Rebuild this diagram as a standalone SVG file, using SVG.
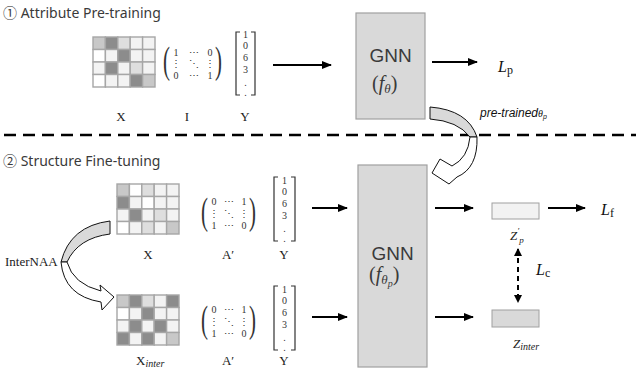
<svg xmlns="http://www.w3.org/2000/svg" width="636" height="370" viewBox="0 0 636 370">
<style>
.bg{fill:#ffffff}
.head{font-family:"Noto Sans","Noto Sans CJK KR",sans-serif;font-size:14px;fill:#3a3a3a}
.lbl{font-family:"Liberation Serif","DejaVu Serif",serif;font-size:13px;fill:#222}
.mt{font-family:"Liberation Serif","DejaVu Serif",serif;font-size:10px;fill:#333;text-anchor:middle}
.par{font-family:"Liberation Serif","DejaVu Serif",serif;font-size:38px;fill:#333}
.vec{font-family:"Liberation Serif","DejaVu Serif",serif;font-size:10px;fill:#333;text-anchor:middle}
.brk{fill:none;stroke:#333;stroke-width:1.2}
.cell{stroke:#a6a6a6;stroke-width:1.4}
.D{fill:#8c8c8c}.L{fill:#c8c8c8}.M{fill:#dedede}.V{fill:#f3f3f3}.W{fill:#ffffff}
.gnn{fill:#d9d9d9;stroke:#a0a0a0;stroke-width:1.2}
.gt{font-family:"Liberation Sans",Arial,sans-serif;font-size:19px;fill:#3a3a3a;text-anchor:middle}
.gf{font-family:"Liberation Serif","DejaVu Serif",serif;font-size:20px;fill:#3a3a3a}
.arr{stroke:#000;stroke-width:2;fill:none;marker-end:url(#ah)}
.dash{stroke:#000;stroke-width:2;fill:none;stroke-dasharray:5 4;marker-end:url(#ah2);marker-start:url(#ah2s)}
.sep{stroke:#000;stroke-width:2.6;stroke-dasharray:12 7;fill:none}
.math{font-family:"Liberation Serif","DejaVu Serif",serif;font-size:16px;fill:#111}
.curv{stroke:#111;stroke-width:1}
</style>
<defs>
<marker id="ah" markerUnits="userSpaceOnUse" markerWidth="10" markerHeight="8" refX="9" refY="4" orient="auto"><path d="M0,0 L10,4 L0,8 z" fill="#000"/></marker>
<marker id="ah2" markerUnits="userSpaceOnUse" markerWidth="8" markerHeight="8" refX="7" refY="4" orient="auto"><path d="M0,0 L8,4 L0,8 z" fill="#000"/></marker>
<marker id="ah2s" markerUnits="userSpaceOnUse" markerWidth="8" markerHeight="8" refX="1" refY="4" orient="auto"><path d="M8,0 L0,4 L8,8 z" fill="#000"/></marker>
</defs>
<rect class="bg" x="0" y="0" width="636" height="370"/>

<text class="head" x="3" y="18">① Attribute Pre-training</text>
<text class="head" x="3" y="166">② Structure Fine-tuning</text>

<line class="sep" x1="4" y1="135" x2="636" y2="135"/>

<!-- Top inputs -->
<g id="x-top">
<g transform="translate(93,37)">
<rect class="cell L" x="0" y="0" width="12.4" height="12.5"/><rect class="cell D" x="12.4" y="0" width="12.4" height="12.5"/><rect class="cell M" x="24.8" y="0" width="12.4" height="12.5"/><rect class="cell V" x="37.2" y="0" width="12.4" height="12.5"/><rect class="cell V" x="49.6" y="0" width="12.4" height="12.5"/>
<rect class="cell W" x="0" y="12.5" width="12.4" height="12.5"/><rect class="cell V" x="12.4" y="12.5" width="12.4" height="12.5"/><rect class="cell D" x="24.8" y="12.5" width="12.4" height="12.5"/><rect class="cell V" x="37.2" y="12.5" width="12.4" height="12.5"/><rect class="cell V" x="49.6" y="12.5" width="12.4" height="12.5"/>
<rect class="cell V" x="0" y="25" width="12.4" height="12.5"/><rect class="cell D" x="12.4" y="25" width="12.4" height="12.5"/><rect class="cell V" x="24.8" y="25" width="12.4" height="12.5"/><rect class="cell M" x="37.2" y="25" width="12.4" height="12.5"/><rect class="cell V" x="49.6" y="25" width="12.4" height="12.5"/>
<rect class="cell W" x="0" y="37.5" width="12.4" height="12.5"/><rect class="cell V" x="12.4" y="37.5" width="12.4" height="12.5"/><rect class="cell V" x="24.8" y="37.5" width="12.4" height="12.5"/><rect class="cell D" x="37.2" y="37.5" width="12.4" height="12.5"/><rect class="cell L" x="49.6" y="37.5" width="12.4" height="12.5"/>
</g>
<text class="lbl" x="121" y="121" text-anchor="middle">X</text>
</g>

<g id="i-top">
<text class="par" transform="translate(163,73) scale(0.55,1)">(</text>
<text class="par" transform="translate(215,73) scale(0.55,1)">)</text>
<text class="mt" x="176" y="56">1</text><text class="mt" x="194" y="56">⋯</text><text class="mt" x="210" y="56">0</text>
<text class="mt" x="176" y="67">⋮</text><text class="mt" x="194" y="67">⋱</text><text class="mt" x="210" y="67">⋮</text>
<text class="mt" x="176" y="79">0</text><text class="mt" x="194" y="79">⋯</text><text class="mt" x="210" y="79">1</text>
<text class="lbl" x="187" y="121" text-anchor="middle">I</text>
</g>

<g id="y-top">
<path class="brk" d="M240,32 L236,32 L236,95 L240,95 M251,32 L255,32 L255,95 L251,95"/>
<text class="vec" x="245.5" y="38">1</text><text class="vec" x="245.5" y="49">0</text><text class="vec" x="245.5" y="61">6</text><text class="vec" x="245.5" y="73">3</text><text class="vec" x="245.5" y="86">.</text><text class="vec" x="245.5" y="96">.</text>
<text class="lbl" x="245" y="121" text-anchor="middle">Y</text>
</g>

<!-- Middle inputs -->
<g id="x-mid">
<g transform="translate(117,184)">
<rect class="cell L" x="0" y="0" width="12.4" height="12.5"/><rect class="cell W" x="12.4" y="0" width="12.4" height="12.5"/><rect class="cell M" x="24.8" y="0" width="12.4" height="12.5"/><rect class="cell V" x="37.2" y="0" width="12.4" height="12.5"/><rect class="cell V" x="49.6" y="0" width="12.4" height="12.5"/>
<rect class="cell D" x="0" y="12.5" width="12.4" height="12.5"/><rect class="cell V" x="12.4" y="12.5" width="12.4" height="12.5"/><rect class="cell W" x="24.8" y="12.5" width="12.4" height="12.5"/><rect class="cell V" x="37.2" y="12.5" width="12.4" height="12.5"/><rect class="cell V" x="49.6" y="12.5" width="12.4" height="12.5"/>
<rect class="cell V" x="0" y="25" width="12.4" height="12.5"/><rect class="cell D" x="12.4" y="25" width="12.4" height="12.5"/><rect class="cell V" x="24.8" y="25" width="12.4" height="12.5"/><rect class="cell M" x="37.2" y="25" width="12.4" height="12.5"/><rect class="cell V" x="49.6" y="25" width="12.4" height="12.5"/>
<rect class="cell W" x="0" y="37.5" width="12.4" height="12.5"/><rect class="cell V" x="12.4" y="37.5" width="12.4" height="12.5"/><rect class="cell M" x="24.8" y="37.5" width="12.4" height="12.5"/><rect class="cell V" x="37.2" y="37.5" width="12.4" height="12.5"/><rect class="cell L" x="49.6" y="37.5" width="12.4" height="12.5"/>
</g>
<text class="lbl" x="148" y="259" text-anchor="middle">X</text>
</g>

<g id="a-mid">
<text class="par" transform="translate(201,224) scale(0.55,1)">(</text>
<text class="par" transform="translate(249,224) scale(0.55,1)">)</text>
<text class="mt" x="214" y="205">0</text><text class="mt" x="229" y="205">⋯</text><text class="mt" x="244" y="205">1</text>
<text class="mt" x="214" y="217">⋮</text><text class="mt" x="229" y="217">⋱</text><text class="mt" x="244" y="217">⋮</text>
<text class="mt" x="214" y="229">1</text><text class="mt" x="229" y="229">⋯</text><text class="mt" x="244" y="229">0</text>
<text class="lbl" x="228" y="259" text-anchor="middle">A′</text>
</g>

<g id="y-mid">
<path class="brk" d="M278,177 L274,177 L274,241 L278,241 M291,177 L295,177 L295,241 L291,241"/>
<text class="vec" x="284.5" y="184">1</text><text class="vec" x="284.5" y="195">0</text><text class="vec" x="284.5" y="207">6</text><text class="vec" x="284.5" y="219">3</text><text class="vec" x="284.5" y="232">.</text><text class="vec" x="284.5" y="242">.</text>
<text class="lbl" x="284" y="259" text-anchor="middle">Y</text>
</g>

<!-- Bottom inputs -->
<g id="x-inter">
<g transform="translate(117,295)">
<rect class="cell L" x="0" y="0" width="12.4" height="12.5"/><rect class="cell D" x="12.4" y="0" width="12.4" height="12.5"/><rect class="cell M" x="24.8" y="0" width="12.4" height="12.5"/><rect class="cell V" x="37.2" y="0" width="12.4" height="12.5"/><rect class="cell D" x="49.6" y="0" width="12.4" height="12.5"/>
<rect class="cell W" x="0" y="12.5" width="12.4" height="12.5"/><rect class="cell V" x="12.4" y="12.5" width="12.4" height="12.5"/><rect class="cell D" x="24.8" y="12.5" width="12.4" height="12.5"/><rect class="cell V" x="37.2" y="12.5" width="12.4" height="12.5"/><rect class="cell V" x="49.6" y="12.5" width="12.4" height="12.5"/>
<rect class="cell V" x="0" y="25" width="12.4" height="12.5"/><rect class="cell D" x="12.4" y="25" width="12.4" height="12.5"/><rect class="cell V" x="24.8" y="25" width="12.4" height="12.5"/><rect class="cell D" x="37.2" y="25" width="12.4" height="12.5"/><rect class="cell V" x="49.6" y="25" width="12.4" height="12.5"/>
<rect class="cell D" x="0" y="37.5" width="12.4" height="12.5"/><rect class="cell V" x="12.4" y="37.5" width="12.4" height="12.5"/><rect class="cell D" x="24.8" y="37.5" width="12.4" height="12.5"/><rect class="cell V" x="37.2" y="37.5" width="12.4" height="12.5"/><rect class="cell L" x="49.6" y="37.5" width="12.4" height="12.5"/>
</g>
<text class="lbl" x="136" y="365">X<tspan font-size="10" font-style="italic" dy="2">inter</tspan></text>
</g>

<g id="a-bot">
<text class="par" transform="translate(201,332) scale(0.55,1)">(</text>
<text class="par" transform="translate(249,332) scale(0.55,1)">)</text>
<text class="mt" x="214" y="313">0</text><text class="mt" x="229" y="313">⋯</text><text class="mt" x="244" y="313">1</text>
<text class="mt" x="214" y="325">⋮</text><text class="mt" x="229" y="325">⋱</text><text class="mt" x="244" y="325">⋮</text>
<text class="mt" x="214" y="337">1</text><text class="mt" x="229" y="337">⋯</text><text class="mt" x="244" y="337">0</text>
<text class="lbl" x="228" y="365" text-anchor="middle">A′</text>
</g>

<g id="y-bot">
<path class="brk" d="M278,286 L274,286 L274,350 L278,350 M291,286 L295,286 L295,350 L291,350"/>
<text class="vec" x="284.5" y="293">1</text><text class="vec" x="284.5" y="304">0</text><text class="vec" x="284.5" y="316">6</text><text class="vec" x="284.5" y="328">3</text><text class="vec" x="284.5" y="341">.</text><text class="vec" x="284.5" y="351">.</text>
<text class="lbl" x="284" y="365" text-anchor="middle">Y</text>
</g>

<!-- GNN boxes -->
<g id="gnn-top">
<rect class="gnn" x="356" y="13" width="69" height="106"/>
<text class="gt" x="390.5" y="62">GNN</text>
<text class="gf" x="372" y="90">(<tspan font-style="italic">f</tspan><tspan font-style="italic" font-size="13" dy="3">θ</tspan><tspan dy="-3">)</tspan></text>
</g>
<g id="gnn-bot">
<rect class="gnn" x="358" y="165" width="69" height="202"/>
<text class="gt" x="392.5" y="260">GNN</text>
<text class="gf" x="369" y="281">(<tspan font-style="italic">f</tspan><tspan font-style="italic" font-size="13" dy="3">θ</tspan><tspan font-style="italic" font-size="10" dy="3">p</tspan><tspan dy="-6">)</tspan></text>
</g>

<!-- Embedding boxes -->
<g id="zp">
<rect x="492" y="203" width="47" height="16" fill="#f2f2f2" stroke="#a0a0a0" stroke-width="1"/>
<text class="lbl" x="510" y="240" font-style="italic" font-size="14">Z<tspan font-size="9" dy="-6">′</tspan><tspan font-size="9" dy="9">p</tspan></text>
</g>
<g id="zinter">
<rect x="492" y="310" width="47" height="17" fill="#d9d9d9" stroke="#a0a0a0" stroke-width="1"/>
<text class="lbl" x="513" y="348" font-style="italic" font-size="14">Z<tspan font-size="10" dy="2">inter</tspan></text>
</g>

<!-- Losses -->
<g id="lp"><text class="math" x="498" y="72"><tspan font-style="italic">L</tspan><tspan font-size="12" dy="2">p</tspan></text></g>
<g id="lf"><text class="math" x="601" y="215"><tspan font-style="italic">L</tspan><tspan font-size="12" dy="2">f</tspan></text></g>
<g id="lc"><text class="math" x="536" y="275"><tspan font-style="italic">L</tspan><tspan font-size="12" dy="2">c</tspan></text></g>

<!-- InterNAA label & curved arrows -->
<g id="internaa">
<text class="lbl" x="5" y="266" font-size="12">InterNAA</text>
<path class="curv" fill="#d9d9d9" d="M110,221 Q70,226 61,262 L67,262 Q78,238 110,234 Z"/>
<path class="curv" fill="#ffffff" d="M61,262 Q64,296 101,302 L102,310 L114,297 L100,285 L101,291 Q73,284 67,262 Z"/>
</g>

<g id="pretrained">
<path class="curv" fill="#d9d9d9" d="M430,107 Q468,110 477,137 L470,137 Q458,121 430,119 Z"/>
<path class="curv" fill="#ffffff" d="M477,137 Q478,168 457,177 L449,184 L432,173 L440,159 L452,166 Q468,158 470,137 Z"/>
<text x="480" y="117" font-family="Liberation Sans, Arial, sans-serif" font-style="italic" font-size="12" fill="#111">pre-trained<tspan font-family="Liberation Serif, serif" font-size="10">θ</tspan><tspan font-size="7" dy="2">p</tspan></text>
</g>

<!-- Connectors -->
<g id="connectors">
<line class="arr" x1="273" y1="65" x2="331" y2="65"/>
<line class="arr" x1="432" y1="62" x2="477" y2="62"/>
<line class="arr" x1="312" y1="208" x2="347" y2="208"/>
<line class="arr" x1="312" y1="317" x2="347" y2="317"/>
<line class="arr" x1="435" y1="208" x2="473" y2="208"/>
<line class="arr" x1="435" y1="317" x2="473" y2="317"/>
<line class="arr" x1="548" y1="208" x2="585" y2="208"/>
<line class="dash" x1="518" y1="249" x2="518" y2="302"/>
</g>
</svg>
